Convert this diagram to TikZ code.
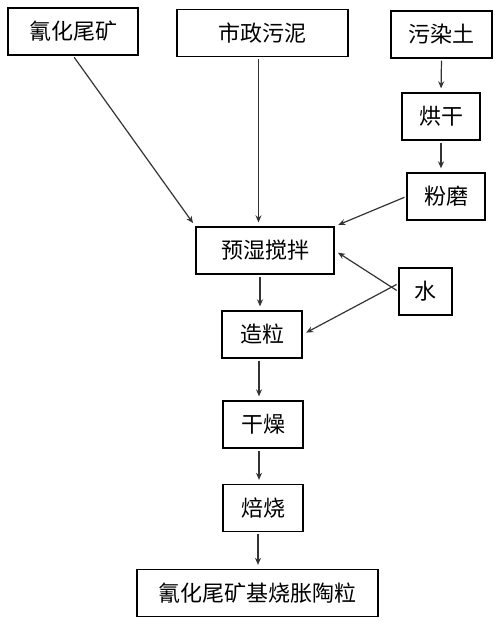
\documentclass[tikz,border=0pt]{standalone}
\usepackage{fontspec}
\usepackage{tikz}
\usetikzlibrary{arrows.meta}
\newfontfamily\cjk{Noto Sans CJK SC}

\begin{document}
\begin{tikzpicture}[x=1pt,y=-1pt]
			\useasboundingbox (0,0) rectangle (500,626);
			\begin{scope}[every node/.style={rectangle,draw,line width=1.3pt,minimum height=47pt,inner sep=0pt,font=\cjk\fontsize{22}{25}\selectfont}]
				\node (ore) [minimum width=130pt] at (73,31.5) {氰化尾矿};
				\node (sludge) [minimum width=171pt] at (262.5,33) {市政污泥};
				\node (soil) [minimum width=101pt] at (441.5,34.5) {污染土};
				\node (bake) [minimum width=78pt] at (441,116.5) {烘干};
				\node (mill) [minimum width=78pt] at (446,196.5) {粉磨};
				\node (mix) [minimum width=138pt] at (265,250.5) {预湿搅拌};
				\node (water) [minimum width=53pt] at (425.5,291.5) {水};
				\node (gran) [minimum width=80pt] at (262,334.5) {造粒};
				\node (dry) [minimum width=80pt] at (263,424.5) {干燥};
				\node (roast) [minimum width=80pt] at (263,508) {焙烧};
				\node (prod) [minimum width=241pt] at (257.5,593) {氰化尾矿基烧胀陶粒};
			\end{scope}
			
			\begin{scope}[every edge/.style={draw=black!80,line width=1.2pt,-{Stealth[length=7pt,width=6pt]},shorten <=2pt,shorten >=4pt}]
				\path (ore.south) edge (mix.north west);
				\path ([xshift=-4pt]sludge.south) edge ([xshift=-4pt]sludge.south |- mix.north);
				\path (soil.south) edge (bake.north);
				\path (bake.south) edge (bake.south |- mill.north);
				\path (mill.west) edge (mix.north east);
				\path (water.west) edge (mix.east);
				\path ([yshift=8pt]water.west) edge (gran.east);
				\path ([xshift=-5pt]mix.south) edge ([xshift=-5pt]mix.south |- gran.north);
				\path ([xshift=-3pt]gran.south) edge ([xshift=-3pt]gran.south |- dry.north);
				\path ([xshift=-4pt]dry.south) edge ([xshift=-4pt]dry.south |- roast.north);
				\path ([xshift=-5pt]roast.south) edge ([xshift=-5pt]roast.south |- prod.north);
			\end{scope}
		\end{tikzpicture}
\end{document}
